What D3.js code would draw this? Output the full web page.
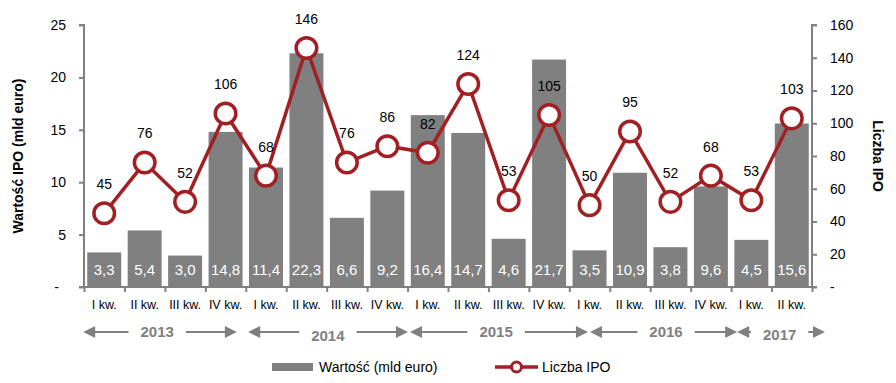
<!DOCTYPE html>
<html><head><meta charset="utf-8">
<script src="https://cdn.jsdelivr.net/npm/d3@7"></script>
<style>
html,body{margin:0;padding:0;background:#fff;}
svg{display:block;font-family:"Liberation Sans",Arial,sans-serif;}
</style></head>
<body><svg id="c" width="896" height="383"></svg>
<script>
const quarters = ["I kw.","II kw.","III kw.","IV kw.","I kw.","II kw.","III kw.","IV kw.","I kw.","II kw.","III kw.","IV kw.","I kw.","II kw.","III kw.","IV kw.","I kw.","II kw."];
const values = [3.3,5.4,3.0,14.8,11.4,22.3,6.6,9.2,16.4,14.7,4.6,21.7,3.5,10.9,3.8,9.6,4.5,15.6];
const counts = [45,76,52,106,68,146,76,86,82,124,53,105,50,95,52,68,53,103];
const years = ["2013","2014","2015","2016","2017"];
const leftTicks = [0,5,10,15,20,25];
const rightTicks = [0,20,40,60,80,100,120,140,160];
// arrow spans in category units (start, end, label centre, label dy)
const yearLayout = [[-0.02,3.78,1.81,0],[4.06,8.01,6.03,4],[8.06,12.46,10.19,0],[12.51,16.15,14.39,0],[16.15,18.32,17.2,3]];

const svg = d3.select("#c");
const red = "#A21F24", grey = "#808080";
const L = 84, R = 812, T = 25, B = 287;

const x = d3.scaleBand().domain(d3.range(quarters.length)).range([L,R]).paddingInner(0.16).paddingOuter(0.08);
const yL = d3.scaleLinear().domain([0,25]).range([B,T]);
const yR = d3.scaleLinear().domain([0,160]).range([B,T]);
const u = d3.scaleLinear().domain([0,quarters.length]).range([L,R]);
const fmt = v => v.toFixed(1).replace(".",",");

// bars
svg.append("g").selectAll("rect").data(values).join("rect")
  .attr("x",(d,i)=>x(i)).attr("width",x.bandwidth())
  .attr("y",d=>yL(d)).attr("height",d=>B-yL(d)).attr("fill",grey);
svg.append("g").selectAll("text").data(values).join("text")
  .attr("x",(d,i)=>x(i)+x.bandwidth()/2).attr("y",270).attr("dy","0.35em")
  .attr("text-anchor","middle").attr("fill","#fff").attr("font-size",15).text(fmt);

// axes
const leftAxis = d3.axisLeft(yL).tickValues(leftTicks).tickSize(5).tickPadding(13).tickFormat(d=>d===0?"-":d);
const gl = svg.append("g").attr("transform",`translate(${L},0)`).call(leftAxis);
const rightAxis = d3.axisRight(yR).tickValues(rightTicks).tickSize(5).tickPadding(13).tickFormat(d=>d===0?"-":d);
const gr = svg.append("g").attr("transform",`translate(${R},0)`).call(rightAxis);
const bottomAxis = d3.axisBottom(u).tickValues(d3.range(quarters.length+1)).tickSize(5).tickFormat("");
const gb = svg.append("g").attr("transform",`translate(0,${B})`).call(bottomAxis);
[gl,gr,gb].forEach(g=>{
  g.select(".domain").attr("stroke",grey).attr("stroke-width",2);
  g.selectAll(".tick line").attr("stroke",grey).attr("stroke-width",2);
  g.selectAll("text").attr("fill","#000").attr("font-size",14).attr("font-family","Liberation Sans, Arial, sans-serif");
});
gl.selectAll(".domain").attr("d",`M-5,${T}H0V${B}H-5`);
gr.selectAll(".domain").attr("d",`M5,${T}H0V${B}H5`);
gb.selectAll(".domain").attr("d",`M${L},0H${R}`);
gl.selectAll(".tick").filter(d=>d===0).select("text").attr("dx",-7);

// category labels
svg.append("g").selectAll("text").data(quarters).join("text")
  .attr("x",(d,i)=>x(i)+x.bandwidth()/2).attr("y",305).attr("dy","0.35em")
  .attr("text-anchor","middle").attr("font-size",12.5).attr("fill","#000").text(d=>d);

// year arrows
const yy = 332;
const ga = svg.append("g");
years.forEach((yr,i)=>{
  const [s,e,c,dy] = yearLayout[i];
  const xs=u(s), xe=u(e), xc=u(c);
  const t = ga.append("text").attr("x",xc).attr("y",yy+dy).attr("dy","0.35em").attr("text-anchor","middle")
    .attr("font-size",15).attr("font-weight","bold").attr("fill",grey).text(yr);
  const w = t.node().getComputedTextLength()/2 + 12;
  ga.append("line").attr("x1",xs+10).attr("x2",xc-w).attr("y1",yy).attr("y2",yy).attr("stroke",grey).attr("stroke-width",2);
  ga.append("line").attr("x1",xc+w).attr("x2",xe-10).attr("y1",yy).attr("y2",yy).attr("stroke",grey).attr("stroke-width",2);
  ga.append("path").attr("d",`M${xs},${yy}L${xs+12},${yy-6}L${xs+12},${yy+6}Z`).attr("fill",grey);
  ga.append("path").attr("d",`M${xe},${yy}L${xe-12},${yy-6}L${xe-12},${yy+6}Z`).attr("fill",grey);
});

// line
const cx = i => x(i)+x.bandwidth()/2;
svg.append("path").datum(counts)
  .attr("d",d3.line().x((d,i)=>cx(i)).y(d=>yR(d)))
  .attr("fill","none").attr("stroke",red).attr("stroke-width",3.5);
svg.append("g").selectAll("circle").data(counts).join("circle")
  .attr("cx",(d,i)=>cx(i)).attr("cy",d=>yR(d)).attr("r",10.3)
  .attr("fill","#fff").attr("stroke",red).attr("stroke-width",3.5);
svg.append("g").selectAll("text").data(counts).join("text")
  .attr("x",(d,i)=>cx(i)).attr("y",d=>yR(d)-29).attr("dy","0.35em")
  .attr("text-anchor","middle").attr("font-size",14).attr("fill","#000").text(d=>d);

// axis titles
svg.append("text").attr("transform","translate(18,156) rotate(-90)").attr("dy","0.35em")
  .attr("text-anchor","middle").attr("font-size",14).attr("font-weight","bold").text("Wartość IPO (mld euro)");
svg.append("text").attr("transform","translate(878,156) rotate(90)").attr("dy","0.35em")
  .attr("text-anchor","middle").attr("font-size",14).attr("font-weight","bold").text("Liczba IPO");

// legend
const ly = 367;
const lg = svg.append("g");
lg.append("rect").attr("x",272).attr("y",ly-4).attr("width",41).attr("height",8).attr("fill",grey);
lg.append("text").attr("x",319).attr("y",ly).attr("dy","0.35em").attr("font-size",14).text("Wartość (mld euro)");
lg.append("line").attr("x1",495).attr("x2",538).attr("y1",ly).attr("y2",ly).attr("stroke",red).attr("stroke-width",3.5);
lg.append("circle").attr("cx",516.5).attr("cy",ly).attr("r",5).attr("fill","#fff").attr("stroke",red).attr("stroke-width",3);
lg.append("text").attr("x",542).attr("y",ly).attr("dy","0.35em").attr("font-size",14).text("Liczba IPO");
</script></body></html>
